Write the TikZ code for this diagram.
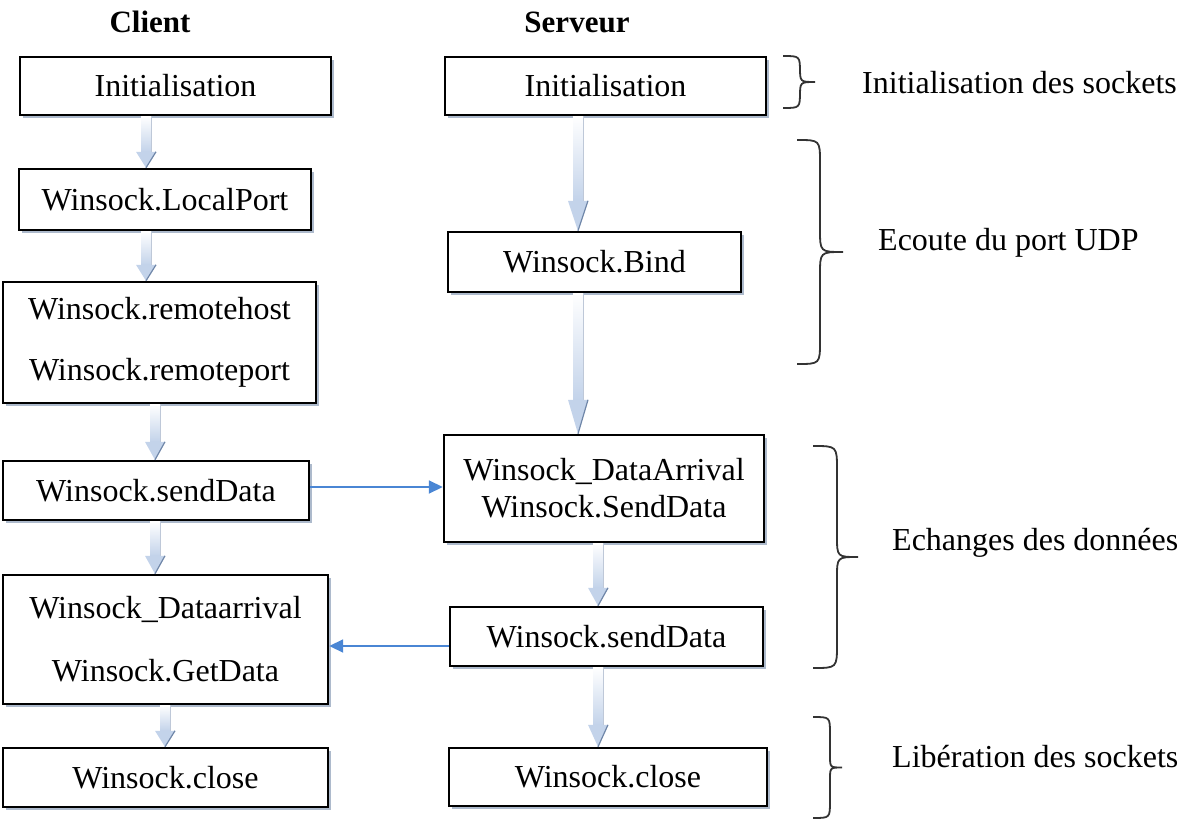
\documentclass[tikz,border=0pt]{standalone}
\usepackage{fontspec}
\setmainfont{Liberation Serif}
\usetikzlibrary{calc,arrows.meta,shadows}
\definecolor{flowblue}{HTML}{C3D3EA}
\definecolor{flowedge}{HTML}{6F86A8}
\definecolor{linkblue}{HTML}{4A86D4}
\definecolor{shadowc}{HTML}{A4B2C6}
\definecolor{bracec}{HTML}{333333}
\tikzset{
  every node/.style={font=\fontsize{32}{37}\selectfont},
  box/.style 2 args={draw=black, line width=2.4pt, fill=white, inner sep=0pt,
    minimum width=#1, minimum height=#2, align=center,
    drop shadow={shadow xshift=2.5pt, shadow yshift=-2.5pt, fill=shadowc, opacity=0.9}},
  header/.style={font=\fontsize{31}{37}\selectfont\bfseries},
  phase/.style={anchor=west, inner sep=0pt},
  link/.style={draw=linkblue, line width=1.8pt, -{Triangle[length=14pt,width=13pt]}},
  bracestyle/.style={draw=bracec, line width=1.8pt},
}
\newcommand\flowarr[3]{%
  \fill[top color=white,bottom color=flowblue] ($(#1)+(-5,0)$) rectangle ($(#2)+(5,-#3)$);
  \draw[flowedge!45, line width=0.8pt] ($(#1)+(5,0)$) -- ($(#2)+(5,-#3)$);
  \fill[flowblue] ($(#2)+(-10,-#3)$) -- ($(#2)+(10,-#3)$) -- (#2) -- cycle;
  \draw[flowedge, line width=1.2pt] ($(#2)+(10,-#3)$) -- (#2);
}
\newcommand\phasebrace[5]{% x0, xspine, xtip, ytop, ybottom
  \pgfmathsetmacro\ym{(#4+#5)/2}
  \pgfmathsetmacro\ra{#2-#1}
  \pgfmathsetmacro\rb{#3-#2}
  \draw[bracestyle] (#1,#4) .. controls (#2,#4) .. (#2,{#4+\ra}) -- (#2,{\ym-\rb})
    .. controls (#2,\ym) .. (#3,\ym) .. controls (#2,\ym) .. (#2,{\ym+\rb})
    -- (#2,{#5-\ra}) .. controls (#2,#5) .. (#1,#5);
}
\begin{document}
\begin{tikzpicture}[x=1pt,y=-1pt]
\useasboundingbox (0,0) rectangle (1179,819);
% headers
\node[header] (hc) at (150,22) {Client};
\node[header] (hs) at (577,22) {Serveur};
% client boxes
\node[box={311pt}{58pt}] (cinit) at (175.5,86) {Initialisation};
\node[box={292pt}{61pt}] (clp) at (165,199.5) {Winsock.LocalPort};
\node[box={313pt}{121pt}] (crem) at (159.5,342.5) {Winsock.remotehost\\[24pt]Winsock.remoteport};
\node[box={306pt}{59pt}] (csend) at (156,490.5) {Winsock.sendData};
\node[box={325pt}{129pt}] (cdata) at (165.5,639.5) {Winsock\_Dataarrival\\[26pt]Winsock.GetData};
\node[box={325pt}{59pt}] (cclose) at (165.5,777.5) {Winsock.close};
% server boxes
\node[box={321pt}{58pt}] (sinit) at (605.5,86) {Initialisation};
\node[box={293pt}{60pt}] (sbind) at (594.5,262) {Winsock.Bind};
\node[box={320pt}{107pt}] (sdata) at (604,488.5) {Winsock\_DataArrival\\Winsock.SendData};
\node[box={313pt}{59pt}] (ssend) at (606.5,636.5) {Winsock.sendData};
\node[box={318pt}{58pt}] (sclose) at (608,777) {Winsock.close};
% arrow columns
\coordinate (ca) at (146,0);
\coordinate (cb) at (155,0);
\coordinate (cc) at (165,0);
\coordinate (sa) at (578,0);
\coordinate (sb) at (598,0);
\flowarr{cinit.south -| ca}{clp.north -| ca}{16}
\flowarr{clp.south -| ca}{crem.north -| ca}{16}
\flowarr{crem.south -| cb}{csend.north -| cb}{18}
\flowarr{csend.south -| cb}{cdata.north -| cb}{18}
\flowarr{cdata.south -| cc}{cclose.north -| cc}{16}
\flowarr{sinit.south -| sa}{sbind.north -| sa}{30}
\flowarr{sbind.south -| sa}{sdata.north -| sa}{34}
\flowarr{sdata.south -| sb}{ssend.north -| sb}{18}
\flowarr{ssend.south -| sb}{sclose.north -| sb}{22}
% exchange arrows
\coordinate (r1) at (0,487);
\coordinate (r2) at (0,646);
\draw[link] (csend.east |- r1) -- (sdata.west |- r1);
\draw[link] (ssend.west |- r2) -- (cdata.east |- r2);
% braces
\phasebrace{783}{800}{815}{56}{108}
\phasebrace{797}{820}{843}{140}{364}
\phasebrace{813}{837}{858}{446}{668}
\phasebrace{813}{830}{842}{717}{818}
% phase labels
\node[phase] (p1) at (862,83) {Initialisation des sockets};
\node[phase] (p2) at (878,243) {Ecoute du port UDP};
\node[phase] (p3) at (892,543) {Echanges des données};
\node[phase] (p4) at (892,757) {Libération des sockets};
\end{tikzpicture}
\end{document}
